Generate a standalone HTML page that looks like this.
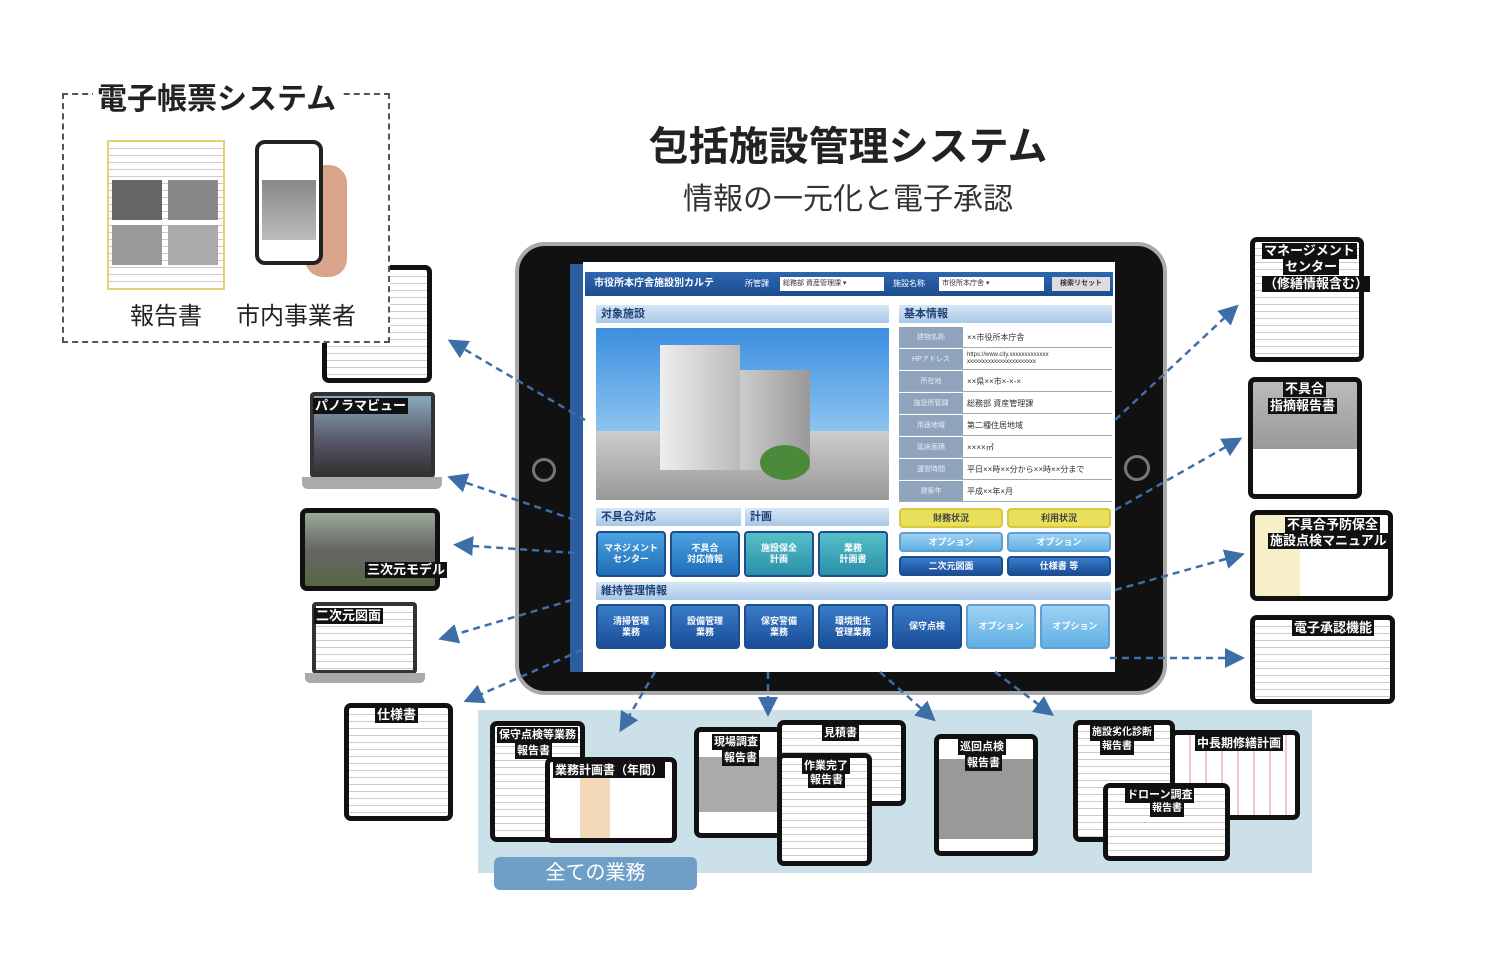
<!DOCTYPE html>
<html><head><meta charset="utf-8">
<style>
*{margin:0;padding:0;box-sizing:border-box}
body{width:1493px;height:975px;background:#fff;position:relative;overflow:hidden;font-family:"Liberation Sans","Noto Sans CJK JP",sans-serif}
.a{position:absolute}
.dev{position:absolute;background:#fff;border:5px solid #111;border-radius:7px;overflow:hidden}
.doc{background:repeating-linear-gradient(#fff 0 6px,#ccc 6px 7px)}
.lbl{position:absolute;background:#111;color:#fff;font-weight:bold;font-size:13px;padding:0 2px;line-height:16px;white-space:nowrap}
.hd{position:absolute;background:linear-gradient(#d6e6f6,#a9c8e8);color:#1f3f74;font-weight:bold;font-size:11px;line-height:18px;padding-left:5px}
.bt{position:absolute;border-radius:4px;color:#fff;font-size:9px;font-weight:bold;text-align:center;display:flex;align-items:center;justify-content:center;line-height:11px;border:2px solid #1c4d8c}
.b1{background:linear-gradient(#4da3e0,#1f6cb8)}
.b2{background:linear-gradient(#56c0c8,#2a8fa8)}
.b3{background:linear-gradient(#3a7cc8,#1a4d98)}
.b4{background:linear-gradient(#9ed2f2,#5fb0e6);border-color:#5f9fd0}
.row{position:absolute;left:899px;width:213px;height:21px;border-bottom:1px solid #9ab}
.row .k{position:absolute;left:0;width:64px;height:100%;background:#8fa3bd;color:#e8eef6;font-size:7px;text-align:center;line-height:21px}
.row .v{position:absolute;left:68px;font-size:8px;line-height:21px;color:#333}
</style></head><body>

<!-- left thumbs -->
<div class="dev doc" style="left:322px;top:265px;width:110px;height:118px"></div>

<!-- dashed box -->
<div class="a" style="left:62px;top:93px;width:328px;height:250px;border:2px dashed #555;background:#fff"></div>
<div class="a" style="left:93px;top:80px;background:#fff;padding:0 4px;font-size:30px;font-weight:bold;color:#222;line-height:40px">電子帳票システム</div>
<div class="a doc" style="left:107px;top:140px;width:118px;height:150px;border:2px solid #e6d070"></div>
<div class="a" style="left:112px;top:180px;width:50px;height:40px;background:#666"></div>
<div class="a" style="left:168px;top:180px;width:50px;height:40px;background:#888"></div>
<div class="a" style="left:112px;top:225px;width:50px;height:40px;background:#999"></div>
<div class="a" style="left:168px;top:225px;width:50px;height:40px;background:#aaa"></div>
<div class="a" style="left:305px;top:165px;width:42px;height:112px;background:#d8a58a;border-radius:18px"></div>
<div class="a" style="left:255px;top:140px;width:68px;height:125px;background:#fff;border:4px solid #222;border-radius:10px"></div>
<div class="a" style="left:262px;top:180px;width:54px;height:60px;background:linear-gradient(#888,#bbb)"></div>
<div class="a" style="left:130px;top:296px;font-size:24px;color:#222">報告書</div>
<div class="a" style="left:236px;top:296px;font-size:24px;color:#222">市内事業者</div>

<!-- titles -->
<div class="a" style="left:640px;top:122px;width:416px;text-align:center;font-size:40px;font-weight:bold;color:#222;line-height:50px">包括施設管理システム</div>
<div class="a" style="left:640px;top:182px;width:416px;text-align:center;font-size:30px;color:#333;line-height:36px">情報の一元化と電子承認</div>

<div class="a" style="left:310px;top:392px;width:125px;height:86px;background:linear-gradient(#8ab 0,#556 60%,#333);border:4px solid #333;border-radius:4px"></div>
<div class="a" style="left:302px;top:477px;width:140px;height:12px;background:#aaa;border-radius:0 0 6px 6px"></div>
<div class="lbl" style="left:313px;top:398px">パノラマビュー</div>
<div class="dev" style="left:300px;top:508px;width:140px;height:83px;background:linear-gradient(#9a9 0,#666 50%,#564)"></div>
<div class="lbl" style="left:365px;top:562px">三次元モデル</div>
<div class="a doc" style="left:312px;top:602px;width:105px;height:72px;border:4px solid #333;border-radius:4px"></div>
<div class="a" style="left:305px;top:673px;width:120px;height:10px;background:#aaa;border-radius:0 0 5px 5px"></div>
<div class="lbl" style="left:314px;top:608px">二次元図面</div>
<div class="dev doc" style="left:344px;top:703px;width:109px;height:118px"></div>
<div class="lbl" style="left:375px;top:707px">仕様書</div>

<!-- right thumbs -->
<div class="dev doc" style="left:1250px;top:237px;width:114px;height:125px"></div>
<div class="lbl" style="left:1262px;top:243px">マネージメント</div>
<div class="lbl" style="left:1283px;top:259px">センター</div>
<div class="lbl" style="left:1262px;top:276px">（修繕情報含む）</div>
<div class="dev" style="left:1248px;top:377px;width:114px;height:122px;background:linear-gradient(#bbb,#999 60%,#fff 60%)"></div>
<div class="lbl" style="left:1283px;top:381px">不具合</div>
<div class="lbl" style="left:1268px;top:398px">指摘報告書</div>
<div class="dev doc" style="left:1250px;top:510px;width:143px;height:91px;background:linear-gradient(90deg,#f6efc8 0 45px,#fff 45px)"></div>
<div class="lbl" style="left:1285px;top:517px">不具合予防保全</div>
<div class="lbl" style="left:1268px;top:533px">施設点検マニュアル</div>
<div class="dev doc" style="left:1250px;top:615px;width:145px;height:89px"></div>
<div class="lbl" style="left:1292px;top:620px">電子承認機能</div>

<!-- bottom panel -->
<div class="a" style="left:478px;top:710px;width:834px;height:163px;background:#cbe0e8"></div>
<div class="a" style="left:494px;top:857px;width:203px;height:33px;background:#6f9fc6;border-radius:6px;color:#fff;font-size:20px;text-align:center;line-height:33px">全ての業務</div>
<div class="dev doc" style="left:490px;top:721px;width:95px;height:121px"></div>
<div class="lbl" style="left:497px;top:727px;font-size:11px">保守点検等業務</div>
<div class="lbl" style="left:515px;top:743px;font-size:11px">報告書</div>
<div class="dev doc" style="left:545px;top:757px;width:132px;height:86px;background:linear-gradient(90deg,#fff 0 30px,#f3d9b8 30px 60px,#fff 60px)"></div>
<div class="lbl" style="left:553px;top:762px;font-size:12px">業務計画書（年間）</div>
<div class="dev" style="left:694px;top:727px;width:96px;height:111px;background:linear-gradient(#fff 0 25px,#aaa 25px 80px,#fff 80px)"></div>
<div class="lbl" style="left:712px;top:734px;font-size:11px">現場調査</div>
<div class="lbl" style="left:722px;top:750px;font-size:11px">報告書</div>
<div class="dev doc" style="left:777px;top:720px;width:129px;height:86px"></div>
<div class="lbl" style="left:822px;top:725px;font-size:11px">見積書</div>
<div class="dev doc" style="left:777px;top:753px;width:95px;height:113px"></div>
<div class="lbl" style="left:802px;top:758px;font-size:11px">作業完了</div>
<div class="lbl" style="left:808px;top:772px;font-size:11px">報告書</div>
<div class="dev" style="left:934px;top:734px;width:104px;height:122px;background:linear-gradient(#fff 0 20px,#999 20px 100px,#fff 100px)"></div>
<div class="lbl" style="left:958px;top:739px;font-size:11px">巡回点検</div>
<div class="lbl" style="left:965px;top:755px;font-size:11px">報告書</div>
<div class="dev doc" style="left:1073px;top:720px;width:102px;height:122px"></div>
<div class="lbl" style="left:1090px;top:725px;font-size:10px">施設劣化診断</div>
<div class="lbl" style="left:1100px;top:739px;font-size:10px">報告書</div>
<div class="dev" style="left:1170px;top:730px;width:130px;height:90px;background:repeating-linear-gradient(90deg,#fff 0 14px,#f2c8c8 14px 16px)"></div>
<div class="lbl" style="left:1195px;top:735px;font-size:12px">中長期修繕計画</div>
<div class="dev doc" style="left:1103px;top:783px;width:127px;height:78px"></div>
<div class="lbl" style="left:1125px;top:787px;font-size:11px">ドローン調査</div>
<div class="lbl" style="left:1150px;top:801px;font-size:10px">報告書</div>

<!-- tablet -->
<div class="a" style="left:515px;top:242px;width:652px;height:453px;background:#111;border:4px solid #aaa;border-radius:30px"></div>
<div class="a" style="left:532px;top:458px;width:24px;height:24px;border:3px solid #777;border-radius:50%"></div>
<div class="a" style="left:1124px;top:455px;width:26px;height:26px;border:3px solid #777;border-radius:50%"></div>
<div class="a" style="left:570px;top:264px;width:16px;height:408px;background:#2c5d9e"></div>
<div class="a" style="left:583px;top:262px;width:532px;height:410px;background:#fff"></div>
<div class="a" style="left:585px;top:272px;width:528px;height:24px;background:linear-gradient(#2d66b0,#1d4d90)"></div>
<div class="a" style="left:594px;top:276px;color:#fff;font-size:10px;font-weight:bold;line-height:16px">市役所本庁舎施設別カルテ</div>
<div class="a" style="left:745px;top:276px;color:#fff;font-size:8px;line-height:16px">所管課</div>
<div class="a" style="left:780px;top:277px;width:104px;height:14px;background:#fff;font-size:7px;line-height:14px;padding-left:3px;color:#333">総務部 資産管理課 ▾</div>
<div class="a" style="left:893px;top:276px;color:#fff;font-size:8px;line-height:16px">施設名称</div>
<div class="a" style="left:939px;top:277px;width:105px;height:14px;background:#fff;font-size:7px;line-height:14px;padding-left:3px;color:#333">市役所本庁舎 ▾</div>
<div class="a" style="left:1052px;top:277px;width:58px;height:14px;background:#ddd;font-size:7px;line-height:14px;text-align:center;font-weight:bold;color:#333">検索リセット</div>

<div class="hd" style="left:596px;top:305px;width:293px">対象施設</div>
<div class="a" style="left:596px;top:328px;width:293px;height:172px;background:linear-gradient(#3c8ee0 0,#8cc4f0 60%,#ccc 60%,#999)"></div>
<div class="a" style="left:660px;top:345px;width:80px;height:125px;background:linear-gradient(90deg,#eee,#bbb)"></div>
<div class="a" style="left:740px;top:370px;width:70px;height:100px;background:linear-gradient(90deg,#ccc,#999)"></div>
<div class="a" style="left:760px;top:445px;width:50px;height:35px;background:#4a8a3a;border-radius:50%"></div>

<div class="hd" style="left:899px;top:305px;width:213px">基本情報</div>
<div class="row" style="top:327px"><div class="k">建物名称</div><div class="v">××市役所本庁舎</div></div>
<div class="row" style="top:349px"><div class="k">HPアドレス</div><div class="v" style="font-size:6px;line-height:7px;top:3px">https://www.city.xxxxxxxxxxxxx<br>xxxxxxxxxxxxxxxxxxxxxxx</div></div>
<div class="row" style="top:371px"><div class="k">所在地</div><div class="v">××県××市×-×-×</div></div>
<div class="row" style="top:393px"><div class="k">施設所管課</div><div class="v">総務部 資産管理課</div></div>
<div class="row" style="top:415px"><div class="k">用途地域</div><div class="v">第二種住居地域</div></div>
<div class="row" style="top:437px"><div class="k">延床面積</div><div class="v">××××㎡</div></div>
<div class="row" style="top:459px"><div class="k">運営時間</div><div class="v">平日××時××分から××時××分まで</div></div>
<div class="row" style="top:481px"><div class="k">建築年</div><div class="v">平成××年×月</div></div>

<div class="hd" style="left:596px;top:508px;width:145px">不具合対応</div>
<div class="hd" style="left:745px;top:508px;width:144px">計画</div>
<div class="bt b1" style="left:596px;top:531px;width:70px;height:46px">マネジメント<br>センター</div>
<div class="bt b1" style="left:670px;top:531px;width:70px;height:46px">不具合<br>対応情報</div>
<div class="bt b2" style="left:744px;top:531px;width:70px;height:46px">施設保全<br>計画</div>
<div class="bt b2" style="left:818px;top:531px;width:70px;height:46px">業務<br>計画書</div>
<div class="bt" style="left:899px;top:508px;width:104px;height:20px;background:#e8df5a;color:#444;border-color:#d8c840">財務状況</div>
<div class="bt" style="left:1007px;top:508px;width:104px;height:20px;background:#e8df5a;color:#444;border-color:#d8c840">利用状況</div>
<div class="bt b4" style="left:899px;top:532px;width:104px;height:20px">オプション</div>
<div class="bt b4" style="left:1007px;top:532px;width:104px;height:20px">オプション</div>
<div class="bt b3" style="left:899px;top:556px;width:104px;height:20px">二次元図面</div>
<div class="bt b3" style="left:1007px;top:556px;width:104px;height:20px">仕様書 等</div>

<div class="hd" style="left:596px;top:582px;width:515px">維持管理情報</div>
<div class="bt b3" style="left:596px;top:604px;width:70px;height:45px">清掃管理<br>業務</div>
<div class="bt b3" style="left:670px;top:604px;width:70px;height:45px">設備管理<br>業務</div>
<div class="bt b3" style="left:744px;top:604px;width:70px;height:45px">保安警備<br>業務</div>
<div class="bt b3" style="left:818px;top:604px;width:70px;height:45px">環境衛生<br>管理業務</div>
<div class="bt b3" style="left:892px;top:604px;width:70px;height:45px">保守点検</div>
<div class="bt b4" style="left:966px;top:604px;width:70px;height:45px">オプション</div>
<div class="bt b4" style="left:1040px;top:604px;width:70px;height:45px">オプション</div>

<!-- arrows -->
<svg class="a" style="left:0;top:0" width="1493" height="975">
<defs><marker id="m" markerWidth="8" markerHeight="8" refX="6" refY="4" orient="auto"><path d="M0,0L8,4L0,8z" fill="#3d6ea8"/></marker></defs>
<g stroke="#3d6ea8" stroke-width="2.5" stroke-dasharray="7,5" fill="none" marker-end="url(#m)">
<path d="M585,420L452,342"/><path d="M575,520L452,478"/><path d="M575,553L458,545"/><path d="M572,600L443,638"/><path d="M582,650L468,700"/>
<path d="M1115,420L1235,308"/><path d="M1115,510L1238,440"/><path d="M1115,590L1240,555"/><path d="M1110,658L1240,658"/>
<path d="M655,672L622,728"/><path d="M768,672L768,712"/><path d="M880,672L932,718"/><path d="M995,672L1050,713"/>
</g></svg>
</body></html>
